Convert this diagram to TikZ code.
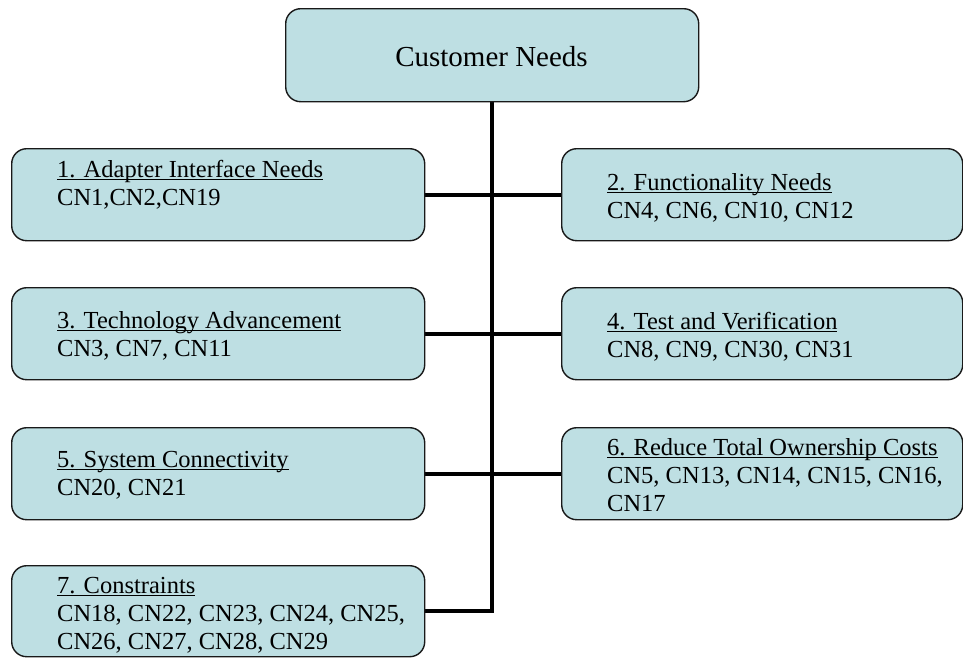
\documentclass[tikz,border=0pt]{standalone}
\usepackage{fontspec}
\setmainfont{Liberation Serif}
\usetikzlibrary{backgrounds}
\definecolor{needfill}{RGB}{190,223,227}
% heading underline that runs through the descenders, at a fixed depth
\newcommand\ulhead[1]{\setbox0=\hbox{#1}\rlap{\rule[-3pt]{\wd0}{1.3pt}}\box0}
\newcommand\needlines[1]{\begin{tabular}[t]{@{}l@{}}#1\end{tabular}}
\tikzset{
  needbox/.style={draw=black!90, line width=1.4pt, fill=needfill,
    rounded corners=15pt, anchor=north west, inner sep=0pt},
  leftbox/.style={needbox, minimum width=413pt, minimum height=92pt},
  rightbox/.style={needbox, minimum width=401pt, minimum height=92pt},
  link/.style={line width=4pt, black, line join=miter},
  boxtext/.style={anchor=base west, inner sep=0pt,
    font=\fontsize{24.5}{28.2}\selectfont},
}
\begin{document}
\begin{tikzpicture}[x=1pt, y=-1pt]
  \useasboundingbox (0,0) rectangle (963,657);

  % root
  \node[needbox, minimum width=413pt, minimum height=93pt] (root) at (285,8) {};
  \node[anchor=base, inner sep=0pt, font=\fontsize{29}{34}\selectfont] (roottext) at (491.5,66) {Customer Needs};

  % category boxes
  \node[leftbox]  (b1) at (11,148) {};
  \node[rightbox] (b2) at (561,148) {};
  \node[leftbox]  (b3) at (11,287) {};
  \node[rightbox] (b4) at (561,287) {};
  \node[leftbox]  (b5) at (11,427) {};
  \node[rightbox] (b6) at (561,427) {};
  \node[leftbox, minimum height=91pt] (b7) at (11,565) {};

  % connectors, kept behind the boxes
  \begin{scope}[on background layer]
    \draw[link] (root.south) -- (root.south |- b7.east) -- (b7.east);
    \draw[link] (b1.east) -- (b2.west);
    \draw[link] (b3.east) -- (b4.west);
    \draw[link] (b5.east) -- (b6.west);
  \end{scope}

  % box texts
  \node[boxtext] (t1) at (57,177) {\needlines{\ulhead{1. Adapter Interface Needs}\\ CN1,CN2,CN19}};
  \node[boxtext] (t2) at (607,190) {\needlines{\ulhead{2. Functionality Needs}\\ CN4, CN6, CN10, CN12}};
  \node[boxtext] (t3) at (57,328) {\needlines{\ulhead{3. Technology Advancement}\\ CN3, CN7, CN11}};
  \node[boxtext] (t4) at (607,329) {\needlines{\ulhead{4. Test and Verification}\\ CN8, CN9, CN30, CN31}};
  \node[boxtext] (t5) at (57,467) {\needlines{\ulhead{5. System Connectivity}\\ CN20, CN21}};
  \node[boxtext] (t6) at (607,455) {\needlines{\ulhead{6. Reduce Total Ownership Costs}\\ CN5, CN13, CN14, CN15, CN16,\\ CN17}};
  \node[boxtext] (t7) at (57,593) {\needlines{\ulhead{7. Constraints}\\ CN18, CN22, CN23, CN24, CN25,\\ CN26, CN27, CN28, CN29}};
\end{tikzpicture}
\end{document}
